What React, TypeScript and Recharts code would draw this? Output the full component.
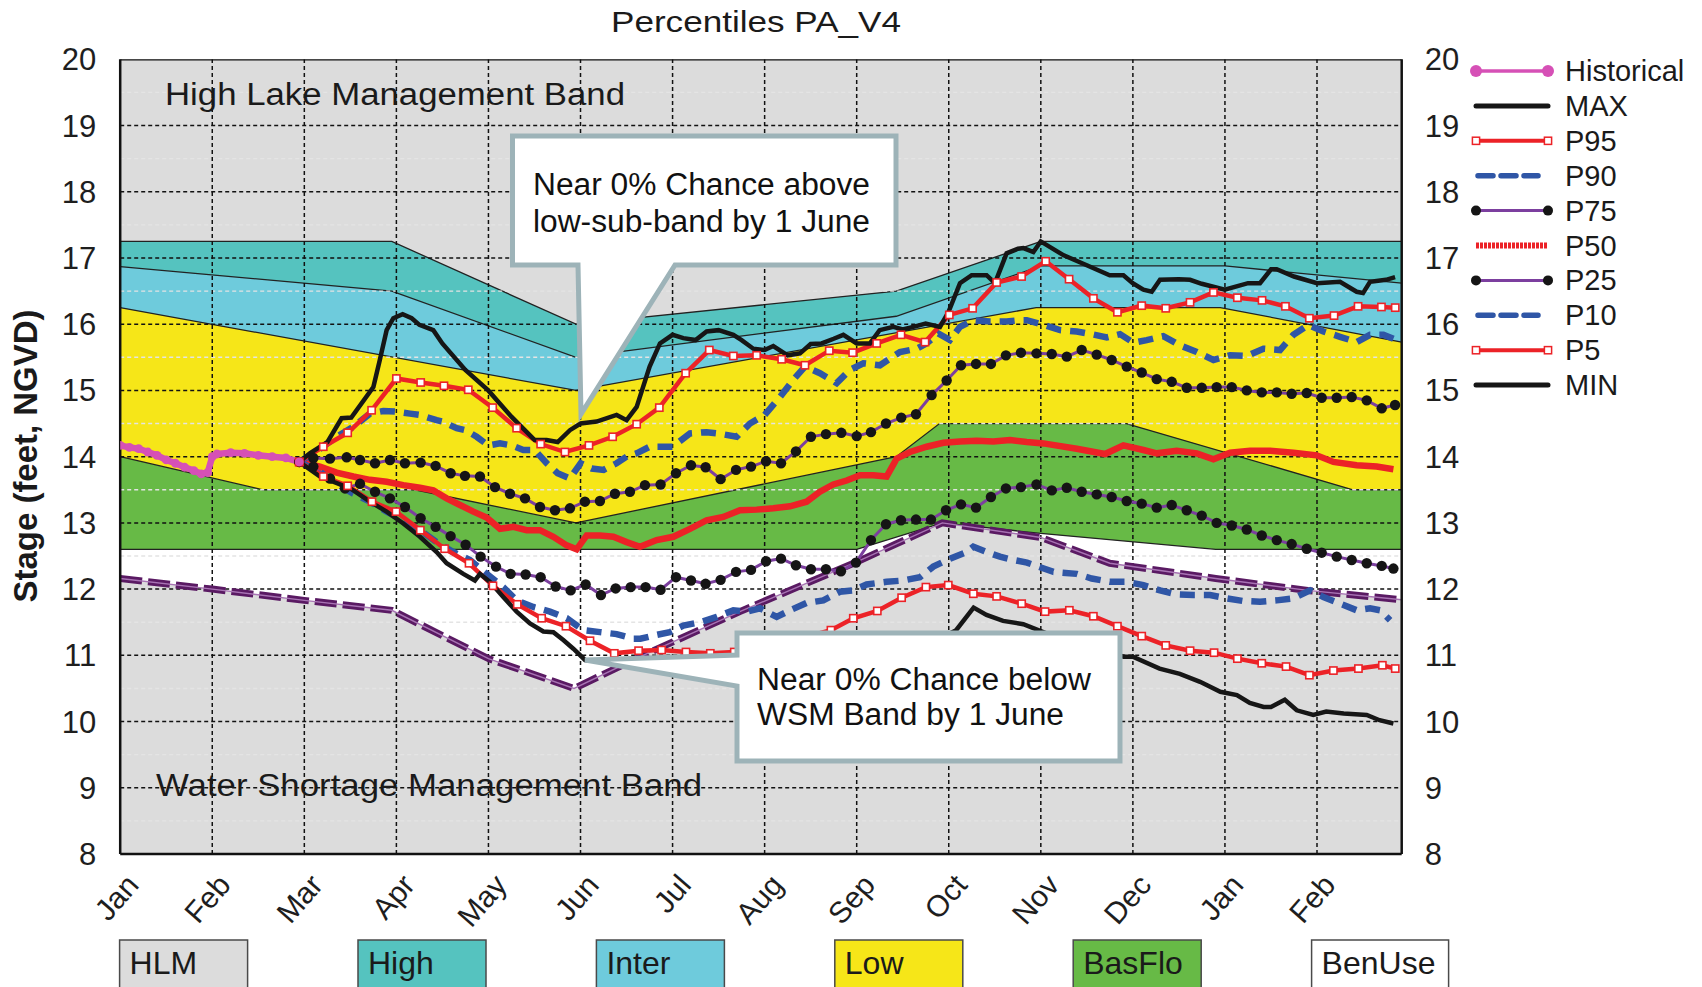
import React from 'react';
import { ComposedChart, Area, Line, XAxis, YAxis } from 'recharts';

const FONT = '"Liberation Sans", Arial, Helvetica, sans-serif';

const MONTHS = ['Jan', 'Feb', 'Mar', 'Apr', 'May', 'Jun', 'Jul', 'Aug', 'Sep', 'Oct', 'Nov', 'Dec', 'Jan', 'Feb'];
const MONTH_TICKS = MONTHS.map((_, i) => i);
const STAGE_TICKS = [8, 9, 10, 11, 12, 13, 14, 15, 16, 17, 18, 19, 20];
const HALF_TICKS = STAGE_TICKS.slice(0, -1).map((t) => t + 0.5);
const X_END = 13.92;

// band top edges [month, stage]
const HLM_TOP = [[0, 20], [X_END, 20]];
const HIGH_TOP = [[0, 17.25], [2.95, 17.25], [4.95, 16.0], [8.43, 16.5], [10.0, 17.25], [X_END, 17.25]];
const INTER_TOP = [[0, 16.87], [2.95, 16.5], [4.95, 15.5], [8.43, 16.12], [10.0, 16.88], [12.0, 16.88], [X_END, 16.62]];
const LOW_TOP = [[0, 16.25], [4.95, 15.0], [9.95, 16.25], [11.95, 16.25], [X_END, 15.73]];
const BASFLO_TOP = [[0, 14.0], [1.55, 13.5], [3.2, 13.5], [4.95, 13.0], [8.43, 14.0], [8.9, 14.5], [10.93, 14.5], [13.39, 13.5], [X_END, 13.5]];
const BENUSE_TOP = [[0, 12.6], [8.0, 12.6], [8.93, 13.0], [10.0, 12.84], [11.9, 12.6], [X_END, 12.6]];
const WSM_TOP = [[0, 12.16], [1, 12.0], [2, 11.83], [2.95, 11.68], [4.0, 10.95], [4.93, 10.5], [5.65, 10.98], [6.73, 11.66], [8.0, 12.41], [8.93, 13.0], [10.0, 12.78], [10.75, 12.39], [11.9, 12.16], [12.9, 11.98], [X_END, 11.84]];

const HISTORICAL = [[0, 14.17], [0.1, 14.14], [0.2, 14.12], [0.3, 14.07], [0.4, 14.02], [0.5, 13.95], [0.6, 13.9], [0.7, 13.84], [0.8, 13.79], [0.88, 13.74], [0.95, 13.76], [1.0, 14.0], [1.05, 14.04], [1.2, 14.06], [1.35, 14.05], [1.5, 14.02], [1.65, 14.0], [1.8, 13.98], [1.945, 13.92]];

const MAX = [[1.945, 13.92], [2.06, 14.05], [2.25, 14.22], [2.405, 14.58], [2.51, 14.59], [2.75, 15.05], [2.82, 15.46], [2.894, 15.91], [2.967, 16.09], [3.068, 16.15], [3.166, 16.09], [3.25, 15.99], [3.401, 15.91], [3.499, 15.71], [3.749, 15.31], [3.998, 15.0], [4.252, 14.6], [4.502, 14.25], [4.632, 14.25], [4.752, 14.22], [4.885, 14.4], [5.001, 14.5], [5.175, 14.53], [5.392, 14.63], [5.501, 14.55], [5.61, 14.75], [5.751, 15.36], [5.863, 15.71], [6.0, 15.84], [6.117, 15.79], [6.25, 15.76], [6.37, 15.89], [6.5, 15.91], [6.66, 15.84], [6.75, 15.76], [6.877, 15.63], [7.0, 15.61], [7.094, 15.67], [7.25, 15.53], [7.384, 15.56], [7.5, 15.7], [7.619, 15.71], [7.75, 15.78], [7.855, 15.84], [8.0, 15.71], [8.144, 15.71], [8.249, 15.91], [8.398, 15.96], [8.499, 15.92], [8.615, 15.96], [8.749, 16.01], [8.905, 15.96], [8.999, 16.19], [9.122, 16.62], [9.249, 16.74], [9.411, 16.74], [9.502, 16.62], [9.628, 17.07], [9.752, 17.14], [9.811, 17.15], [9.919, 17.09], [9.999, 17.25], [10.249, 17.04], [10.499, 16.89], [10.748, 16.74], [10.897, 16.74], [10.998, 16.62], [11.114, 16.52], [11.205, 16.49], [11.295, 16.67], [11.498, 16.68], [11.621, 16.67], [11.748, 16.61], [11.998, 16.52], [12.251, 16.62], [12.381, 16.62], [12.501, 16.83], [12.562, 16.83], [12.75, 16.72], [13.0, 16.62], [13.25, 16.64], [13.431, 16.49], [13.5, 16.47], [13.576, 16.64], [13.75, 16.67], [13.848, 16.71]];

const P95 = [[1.945, 13.92], [2.206, 14.15], [2.471, 14.36], [2.731, 14.7], [3.0, 15.18], [3.264, 15.12], [3.517, 15.07], [3.781, 15.01], [4.046, 14.74], [4.306, 14.43], [4.567, 14.19], [4.831, 14.07], [5.092, 14.17], [5.349, 14.3], [5.61, 14.49], [5.856, 14.74], [6.142, 15.26], [6.399, 15.61], [6.66, 15.52], [6.913, 15.53], [7.185, 15.47], [7.438, 15.38], [7.702, 15.6], [7.956, 15.57], [8.217, 15.71], [8.481, 15.84], [8.742, 15.73], [9.006, 16.14], [9.259, 16.24], [9.52, 16.63], [9.791, 16.72], [10.053, 16.95], [10.307, 16.68], [10.571, 16.39], [10.832, 16.18], [11.096, 16.28], [11.357, 16.24], [11.621, 16.33], [11.875, 16.48], [12.135, 16.4], [12.403, 16.36], [12.657, 16.27], [12.917, 16.09], [13.185, 16.13], [13.446, 16.27], [13.7, 16.26], [13.85, 16.25]];

const P90 = [[1.945, 13.92], [2.17, 14.12], [2.351, 14.3], [2.532, 14.45], [2.713, 14.65], [2.858, 14.69], [3.0, 14.68], [3.148, 14.65], [3.249, 14.63], [3.437, 14.55], [3.499, 14.53], [3.655, 14.43], [3.749, 14.4], [3.872, 14.3], [3.998, 14.17], [4.125, 14.2], [4.252, 14.17], [4.379, 14.1], [4.502, 14.1], [4.632, 13.9], [4.751, 13.75], [4.885, 13.67], [5.001, 13.9], [5.121, 13.82], [5.251, 13.8], [5.392, 13.9], [5.501, 14.0], [5.61, 14.05], [5.751, 14.15], [6.0, 14.15], [6.189, 14.35], [6.37, 14.37], [6.5, 14.35], [6.696, 14.3], [6.841, 14.5], [7.0, 14.63], [7.167, 14.9], [7.311, 15.16], [7.438, 15.36], [7.601, 15.26], [7.782, 15.11], [7.927, 15.31], [8.072, 15.41], [8.253, 15.38], [8.47, 15.58], [8.651, 15.63], [8.76, 15.71], [8.886, 15.86], [9.013, 15.76], [9.122, 15.96], [9.267, 16.06], [9.447, 16.04], [9.628, 16.04], [9.773, 16.06], [9.847, 16.06], [10.028, 15.99], [10.209, 15.91], [10.39, 15.89], [10.553, 15.85], [10.716, 15.8], [10.861, 15.85], [11.006, 15.72], [11.15, 15.76], [11.331, 15.82], [11.512, 15.68], [11.694, 15.58], [11.875, 15.46], [12.056, 15.53], [12.237, 15.52], [12.418, 15.63], [12.599, 15.61], [12.744, 15.84], [12.906, 15.99], [13.069, 15.89], [13.25, 15.81], [13.431, 15.73], [13.576, 15.84], [13.721, 15.84], [13.83, 15.78]];

const P75 = [[1.945, 13.92], [2.098, 13.98], [2.279, 13.97], [2.46, 13.99], [2.605, 13.95], [2.768, 13.9], [2.93, 13.95], [3.093, 13.9], [3.263, 13.91], [3.426, 13.86], [3.589, 13.75], [3.745, 13.71], [3.908, 13.7], [4.071, 13.54], [4.234, 13.44], [4.397, 13.37], [4.56, 13.24], [4.723, 13.19], [4.885, 13.22], [5.048, 13.32], [5.211, 13.33], [5.374, 13.44], [5.537, 13.47], [5.7, 13.57], [5.87, 13.58], [6.037, 13.75], [6.2, 13.87], [6.359, 13.84], [6.522, 13.66], [6.689, 13.8], [6.852, 13.85], [7.015, 13.93], [7.178, 13.9], [7.34, 14.08], [7.503, 14.3], [7.666, 14.34], [7.833, 14.36], [8.0, 14.31], [8.155, 14.37], [8.318, 14.5], [8.484, 14.59], [8.644, 14.64], [8.814, 14.93], [8.977, 15.15], [9.133, 15.38], [9.296, 15.4], [9.458, 15.4], [9.621, 15.53], [9.784, 15.57], [9.953, 15.56], [10.119, 15.55], [10.282, 15.51], [10.444, 15.61], [10.607, 15.54], [10.77, 15.46], [10.933, 15.36], [11.096, 15.27], [11.259, 15.17], [11.422, 15.13], [11.585, 15.04], [11.748, 15.04], [11.91, 15.05], [12.074, 15.05], [12.237, 15.0], [12.4, 14.97], [12.563, 14.97], [12.725, 14.95], [12.888, 14.96], [13.051, 14.89], [13.214, 14.89], [13.377, 14.9], [13.54, 14.85], [13.703, 14.73], [13.848, 14.78]];

const P50 = [[1.945, 13.92], [2.17, 13.85], [2.351, 13.76], [2.532, 13.7], [2.713, 13.65], [2.894, 13.62], [3.075, 13.57], [3.256, 13.53], [3.401, 13.49], [3.546, 13.37], [3.691, 13.27], [3.836, 13.17], [3.98, 13.08], [4.125, 12.91], [4.27, 12.94], [4.415, 12.89], [4.56, 12.89], [4.705, 12.79], [4.85, 12.66], [4.958, 12.6], [5.067, 12.81], [5.212, 12.81], [5.357, 12.79], [5.501, 12.71], [5.646, 12.64], [5.827, 12.74], [6.008, 12.79], [6.189, 12.91], [6.37, 13.04], [6.551, 13.09], [6.732, 13.19], [6.913, 13.2], [7.094, 13.22], [7.276, 13.25], [7.456, 13.32], [7.601, 13.47], [7.746, 13.58], [7.891, 13.64], [8.036, 13.72], [8.18, 13.72], [8.325, 13.7], [8.434, 13.97], [8.579, 14.07], [8.76, 14.15], [8.941, 14.21], [9.122, 14.23], [9.303, 14.24], [9.484, 14.23], [9.666, 14.25], [9.847, 14.22], [10.028, 14.2], [10.39, 14.12], [10.698, 14.04], [10.897, 14.17], [11.114, 14.1], [11.259, 14.05], [11.476, 14.09], [11.694, 14.05], [11.875, 13.96], [12.056, 14.06], [12.273, 14.09], [12.49, 14.09], [12.744, 14.06], [12.997, 14.02], [13.178, 13.92], [13.431, 13.87], [13.648, 13.85], [13.83, 13.81]];

const P25 = [[1.945, 13.92], [2.098, 13.85], [2.279, 13.67], [2.442, 13.52], [2.605, 13.59], [2.768, 13.47], [2.93, 13.37], [3.093, 13.24], [3.263, 13.07], [3.426, 12.94], [3.589, 12.8], [3.752, 12.67], [3.915, 12.49], [4.082, 12.34], [4.241, 12.23], [4.404, 12.22], [4.567, 12.18], [4.73, 12.04], [4.893, 11.98], [5.056, 12.07], [5.222, 11.91], [5.382, 12.01], [5.545, 12.03], [5.707, 12.03], [5.87, 11.99], [6.037, 12.18], [6.2, 12.13], [6.359, 12.08], [6.522, 12.14], [6.689, 12.26], [6.852, 12.29], [7.015, 12.42], [7.178, 12.46], [7.34, 12.36], [7.503, 12.3], [7.666, 12.3], [7.829, 12.27], [7.992, 12.4], [8.155, 12.74], [8.318, 12.98], [8.481, 13.04], [8.644, 13.05], [8.807, 13.05], [8.97, 13.19], [9.133, 13.28], [9.296, 13.23], [9.458, 13.39], [9.621, 13.52], [9.784, 13.54], [9.953, 13.58], [10.119, 13.49], [10.282, 13.53], [10.444, 13.47], [10.607, 13.43], [10.77, 13.39], [10.933, 13.33], [11.096, 13.29], [11.259, 13.23], [11.422, 13.27], [11.585, 13.19], [11.748, 13.11], [11.91, 13.0], [12.074, 12.96], [12.237, 12.9], [12.4, 12.81], [12.563, 12.74], [12.725, 12.68], [12.888, 12.61], [13.051, 12.55], [13.214, 12.49], [13.377, 12.44], [13.54, 12.39], [13.703, 12.35], [13.83, 12.31]];

const P10 = [[1.945, 13.92], [2.17, 13.77], [2.351, 13.59], [2.532, 13.44], [2.713, 13.32], [2.894, 13.17], [3.075, 13.04], [3.256, 12.89], [3.437, 12.71], [3.618, 12.56], [3.799, 12.44], [3.98, 12.23], [4.161, 12.03], [4.306, 11.83], [4.487, 11.73], [4.668, 11.66], [4.85, 11.56], [5.031, 11.38], [5.212, 11.35], [5.392, 11.32], [5.573, 11.25], [5.65, 11.25], [5.8, 11.3], [5.97, 11.35], [6.117, 11.45], [6.3, 11.5], [6.48, 11.58], [6.66, 11.68], [6.805, 11.66], [6.95, 11.71], [7.131, 11.58], [7.276, 11.68], [7.456, 11.79], [7.637, 11.83], [7.818, 11.96], [7.963, 11.98], [8.108, 12.07], [8.325, 12.11], [8.506, 12.13], [8.687, 12.18], [8.832, 12.34], [9.013, 12.46], [9.194, 12.56], [9.267, 12.64], [9.411, 12.56], [9.556, 12.49], [9.7, 12.44], [9.85, 12.4], [10.137, 12.26], [10.39, 12.23], [10.553, 12.16], [10.748, 12.11], [10.933, 12.11], [11.114, 12.06], [11.295, 11.98], [11.476, 11.92], [11.657, 11.91], [11.838, 11.91], [12.02, 11.86], [12.2, 11.82], [12.381, 11.81], [12.562, 11.83], [12.743, 11.86], [12.925, 11.98], [13.069, 11.88], [13.25, 11.78], [13.431, 11.68], [13.576, 11.71], [13.685, 11.68], [13.794, 11.53]];

const P5 = [[1.945, 13.92], [2.206, 13.7], [2.471, 13.56], [2.735, 13.32], [2.996, 13.17], [3.26, 12.89], [3.524, 12.61], [3.789, 12.39], [4.049, 12.05], [4.313, 11.77], [4.578, 11.56], [4.842, 11.44], [5.103, 11.22], [5.367, 11.03], [5.631, 11.07], [5.881, 11.08], [6.146, 11.05], [6.41, 11.03], [6.67, 11.05], [6.94, 11.1], [7.2, 11.18], [7.46, 11.28], [7.72, 11.38], [7.963, 11.56], [8.224, 11.67], [8.488, 11.87], [8.752, 12.03], [8.995, 12.06], [9.267, 11.93], [9.52, 11.89], [9.792, 11.78], [10.046, 11.66], [10.31, 11.68], [10.571, 11.59], [10.832, 11.44], [11.096, 11.29], [11.357, 11.15], [11.621, 11.07], [11.882, 11.04], [12.135, 10.95], [12.4, 10.88], [12.664, 10.83], [12.917, 10.7], [13.178, 10.77], [13.45, 10.8], [13.71, 10.85], [13.85, 10.8]];

const MIN = [[1.945, 13.92], [2.17, 13.7], [2.5, 13.52], [2.713, 13.32], [2.894, 13.17], [3.075, 12.99], [3.256, 12.79], [3.437, 12.56], [3.546, 12.39], [3.727, 12.23], [3.853, 12.13], [3.908, 12.23], [4.016, 12.11], [4.161, 11.88], [4.306, 11.66], [4.451, 11.48], [4.596, 11.36], [4.705, 11.35], [4.813, 11.23], [4.922, 11.1], [5.049, 10.93], [5.5, 10.88], [6.0, 10.84], [6.5, 10.8], [7.3, 10.75], [8.1, 10.85], [8.7, 11.1], [9.08, 11.38], [9.27, 11.72], [9.41, 11.61], [9.59, 11.52], [9.81, 11.47], [10.3, 11.2], [10.6, 11.1], [10.9, 10.98], [11.0, 10.98], [11.29, 10.8], [11.51, 10.72], [11.73, 10.6], [11.95, 10.45], [12.13, 10.4], [12.27, 10.28], [12.42, 10.22], [12.5, 10.22], [12.65, 10.33], [12.78, 10.17], [12.96, 10.1], [13.1, 10.15], [13.29, 10.12], [13.54, 10.1], [13.68, 10.02], [13.83, 9.97]];

const LEGEND_NAMES = ['Historical', 'MAX', 'P95', 'P90', 'P75', 'P50', 'P25', 'P10', 'P5', 'MIN'];
const BAND_NAMES = ['HLM', 'High', 'Inter', 'Low', 'BasFlo', 'BenUse'];

const COL = {
  gray: '#dcdcdc',
  high: '#55c3bf',
  inter: '#6ecbdc',
  low: '#f6e618',
  basflo: '#67ba46',
  red: '#ec2227',
  blue: '#2f56a6',
  purple: '#7c3f9f',
  black: '#161616',
  magenta: '#d650b6',
  wsm: '#5a1a63',
  callout: '#9db3b8',
};
const BAND_COLORS = [COL.gray, COL.high, COL.inter, COL.low, COL.basflo, '#ffffff'];

const pts = (a: number[][]) => a.map(([x, v]) => ({ x, v }));

const vGrid = MONTH_TICKS.slice(1).flatMap((m) => [{ x: m, v: 8 }, { x: m, v: 20 }, { x: m, v: null }]);
const hGrid = STAGE_TICKS.slice(1, -1).flatMap((t) => [{ x: 0, v: t }, { x: X_END, v: t }, { x: X_END, v: null }]);
const minorGrid = HALF_TICKS.flatMap((t) => [{ x: 0, v: t }, { x: X_END, v: t }, { x: X_END, v: null }]);
const topFrame = [{ x: 0, v: 20 }, { x: X_END, v: 20 }];

function MonthTick(props: any) {
  const { x, y, payload } = props;
  return (
    <g transform={`translate(${x + 20},${y + 32})`}>
      <text textAnchor="end" transform="rotate(-49)" fontSize={30} fontFamily={FONT} fill="#1e1e1e">
        {MONTHS[payload.value]}
      </text>
    </g>
  );
}

const squareDot = (p: any) => (
  <rect key={`sq-${p.index}`} x={p.cx - 3.6} y={p.cy - 3.6} width={7.2} height={7.2} fill="#fff" stroke={COL.red} strokeWidth={1.6} />
);
const blackDot = (p: any) => <circle key={`bd-${p.index}`} cx={p.cx} cy={p.cy} r={5.2} fill="#151515" />;
const pinkDot = (p: any) => <circle key={`pd-${p.index}`} cx={p.cx} cy={p.cy} r={4.4} fill={COL.magenta} />;

function LegendSymbol({ name, y }: { name: string; y: number }) {
  const x1 = 1476;
  const x2 = 1548;
  if (name === 'Historical')
    return (
      <g>
        <line x1={x1} x2={x2} y1={y} y2={y} stroke={COL.magenta} strokeWidth={3.5} />
        <circle cx={x1} cy={y} r={6} fill={COL.magenta} />
        <circle cx={x2} cy={y} r={6} fill={COL.magenta} />
      </g>
    );
  if (name === 'MAX' || name === 'MIN')
    return <line x1={x1} x2={x2} y1={y} y2={y} stroke={COL.black} strokeWidth={5} strokeLinecap="round" />;
  if (name === 'P95' || name === 'P5')
    return (
      <g>
        <line x1={x1} x2={x2} y1={y} y2={y} stroke={COL.red} strokeWidth={4} />
        <rect x={x1 - 3.6} y={y - 3.6} width={7.2} height={7.2} fill="#fff" stroke={COL.red} strokeWidth={1.5} />
        <rect x={x2 - 3.6} y={y - 3.6} width={7.2} height={7.2} fill="#fff" stroke={COL.red} strokeWidth={1.5} />
      </g>
    );
  if (name === 'P90' || name === 'P10')
    return <line x1={x1 + 2} x2={x2 - 10} y1={y} y2={y} stroke={COL.blue} strokeWidth={5.5} strokeDasharray="15 8" strokeLinecap="round" />;
  if (name === 'P75' || name === 'P25')
    return (
      <g>
        <line x1={x1} x2={x2} y1={y} y2={y} stroke={COL.purple} strokeWidth={3} />
        <circle cx={x1} cy={y} r={5} fill="#151515" />
        <circle cx={x2} cy={y} r={5} fill="#151515" />
      </g>
    );
  return <line x1={x1} x2={x2} y1={y} y2={y} stroke={COL.red} strokeWidth={6} strokeDasharray="3 1" />;
}

function Overlay() {
  return (
    <svg width={1702} height={987} style={{ position: 'absolute', left: 0, top: 0, pointerEvents: 'none' }} fontFamily={FONT}>
      <text x={611} y={32} fontSize={30} fill="#1a1a1a" textLength={290} lengthAdjust="spacingAndGlyphs">
        Percentiles PA_V4
      </text>
      <text x={165} y={105} fontSize={31} fill="#1a1a1a" textLength={460} lengthAdjust="spacingAndGlyphs">
        High Lake Management Band
      </text>
      <text x={156} y={796} fontSize={31} fill="#1a1a1a" textLength={546} lengthAdjust="spacingAndGlyphs">
        Water Shortage Management Band
      </text>
      <text
        x={25}
        y={456}
        transform="rotate(-90 25 456)"
        textAnchor="middle"
        dominantBaseline="central"
        fontSize={33}
        fontWeight="bold"
        fill="#1a1a1a"
        textLength={293}
        lengthAdjust="spacingAndGlyphs"
      >
        Stage (feet, NGVD)
      </text>

      <path d="M512.5,136 H896 V265 H675 L581,414 L578,265 H512.5 Z" fill="#fff" stroke={COL.callout} strokeWidth={5} />
      <text x={533} y={195} fontSize={31} fill="#111" textLength={337} lengthAdjust="spacingAndGlyphs">
        Near 0% Chance above
      </text>
      <text x={533} y={232} fontSize={31} fill="#111" textLength={337} lengthAdjust="spacingAndGlyphs">
        low-sub-band by 1 June
      </text>

      <path d="M737,633 H1120 V761 H737 V686 L585,660 L737,655 Z" fill="#fff" stroke={COL.callout} strokeWidth={5} />
      <text x={757} y={690} fontSize={31} fill="#111" textLength={334} lengthAdjust="spacingAndGlyphs">
        Near 0% Chance below
      </text>
      <text x={757} y={725} fontSize={31} fill="#111" textLength={307} lengthAdjust="spacingAndGlyphs">
        WSM Band by 1 June
      </text>

      {LEGEND_NAMES.map((name, i) => {
        const y = 71 + i * 34.9;
        return (
          <g key={name}>
            <LegendSymbol name={name} y={y} />
            <text x={1565} y={y + 10} fontSize={29} fill="#1a1a1a">
              {name}
            </text>
          </g>
        );
      })}

      {BAND_NAMES.map((name, i) => {
        const x = 119.6 + i * 238.4;
        const w = i === BAND_NAMES.length - 1 ? 137 : 128;
        return (
          <g key={name}>
            <rect x={x} y={940} width={w} height={70} fill={BAND_COLORS[i]} stroke="#4a4a4a" strokeWidth={1.5} />
            <text x={x + 10} y={974} fontSize={32} fill="#1a1a1a">
              {name}
            </text>
          </g>
        );
      })}
    </svg>
  );
}

const bandArea = (key: string, data: number[][], fill: string, stroke: string) => (
  <Area
    key={key}
    data={pts(data)}
    dataKey="v"
    type="linear"
    baseValue={8}
    fill={fill}
    fillOpacity={1}
    stroke={stroke}
    strokeWidth={1.3}
    dot={false}
    activeDot={false}
    isAnimationActive={false}
  />
);

export default function App() {
  return (
    <div style={{ position: 'absolute', left: 0, top: 0, width: 1702, height: 987, background: '#fff', overflow: 'hidden' }}>
      <ComposedChart width={1702} height={987} margin={{ top: 59.3, right: 220.3, bottom: 43, left: 0 }}>
        <XAxis
          dataKey="x"
          type="number"
          domain={[0, X_END]}
          ticks={MONTH_TICKS}
          interval={0}
          allowDataOverflow
          height={90}
          tickLine={false}
          tickSize={0}
          tickMargin={0}
          axisLine={{ stroke: '#111', strokeWidth: 2.5 }}
          tick={(p: any) => <MonthTick {...p} />}
        />
        <YAxis
          type="number"
          domain={[8, 20]}
          ticks={STAGE_TICKS}
          interval={0}
          allowDataOverflow
          width={120.2}
          tickLine={false}
          tickSize={0}
          tickMargin={24}
          axisLine={{ stroke: '#111', strokeWidth: 2.5 }}
          tick={{ fontSize: 31, fill: '#1e1e1e', fontFamily: FONT }}
        />
        <YAxis
          yAxisId="right"
          orientation="right"
          type="number"
          domain={[8, 20]}
          ticks={STAGE_TICKS}
          interval={0}
          allowDataOverflow
          width={80}
          tickLine={false}
          tickSize={0}
          tickMargin={23}
          axisLine={{ stroke: '#111', strokeWidth: 2.5 }}
          tick={{ fontSize: 31, fill: '#1e1e1e', fontFamily: FONT }}
        />

        {bandArea('hlm', HLM_TOP, COL.gray, 'none')}
        {bandArea('high', HIGH_TOP, COL.high, '#222')}
        {bandArea('inter', INTER_TOP, COL.inter, '#222')}
        {bandArea('low', LOW_TOP, COL.low, '#222')}
        {bandArea('basflo', BASFLO_TOP, COL.basflo, '#222')}
        {bandArea('benuse', BENUSE_TOP, '#ffffff', '#222')}
        {bandArea('wsm', WSM_TOP, COL.gray, 'none')}

        <Line data={minorGrid} dataKey="v" stroke="#e4e4e4" strokeWidth={1.4} strokeDasharray="4 3" dot={false} activeDot={false} connectNulls={false} isAnimationActive={false} />
        <Line data={hGrid} dataKey="v" stroke="#111" strokeWidth={1.5} strokeDasharray="4 3" dot={false} activeDot={false} connectNulls={false} isAnimationActive={false} />
        <Line data={vGrid} dataKey="v" stroke="#111" strokeWidth={1.5} strokeDasharray="4 3" dot={false} activeDot={false} connectNulls={false} isAnimationActive={false} />

        <Line data={pts(WSM_TOP)} dataKey="v" type="linear" stroke={COL.wsm} strokeWidth={7} strokeDasharray="22 6" dot={false} activeDot={false} isAnimationActive={false} />
        <Line data={pts(WSM_TOP)} dataKey="v" type="linear" stroke="#a874b4" strokeWidth={1.4} dot={false} activeDot={false} isAnimationActive={false} />

        <Line data={pts(P75)} dataKey="v" type="linear" stroke={COL.purple} strokeWidth={3} dot={blackDot} activeDot={false} isAnimationActive={false} />
        <Line data={pts(P25)} dataKey="v" type="linear" stroke={COL.purple} strokeWidth={3} dot={blackDot} activeDot={false} isAnimationActive={false} />
        <Line data={pts(P50)} dataKey="v" type="linear" stroke={COL.red} strokeWidth={6.5} dot={false} activeDot={false} isAnimationActive={false} />
        <Line data={pts(P90)} dataKey="v" type="linear" stroke={COL.blue} strokeWidth={6.5} strokeDasharray="15 9" dot={false} activeDot={false} isAnimationActive={false} />
        <Line data={pts(P10)} dataKey="v" type="linear" stroke={COL.blue} strokeWidth={6.5} strokeDasharray="15 9" dot={false} activeDot={false} isAnimationActive={false} />
        <Line data={pts(P95)} dataKey="v" type="linear" stroke={COL.red} strokeWidth={4.5} dot={squareDot} activeDot={false} isAnimationActive={false} />
        <Line data={pts(P5)} dataKey="v" type="linear" stroke={COL.red} strokeWidth={4.5} dot={squareDot} activeDot={false} isAnimationActive={false} />
        <Line data={pts(MAX)} dataKey="v" type="linear" stroke={COL.black} strokeWidth={4.5} dot={false} activeDot={false} isAnimationActive={false} />
        <Line data={pts(MIN)} dataKey="v" type="linear" stroke={COL.black} strokeWidth={4.5} dot={false} activeDot={false} isAnimationActive={false} />
        <Line data={pts(HISTORICAL)} dataKey="v" type="linear" stroke={COL.magenta} strokeWidth={6.5} dot={pinkDot} activeDot={false} isAnimationActive={false} />

        <Line data={topFrame} yAxisId="right" dataKey="v" stroke="#111" strokeWidth={2.5} dot={false} activeDot={false} isAnimationActive={false} />
      </ComposedChart>
      <Overlay />
    </div>
  );
}
